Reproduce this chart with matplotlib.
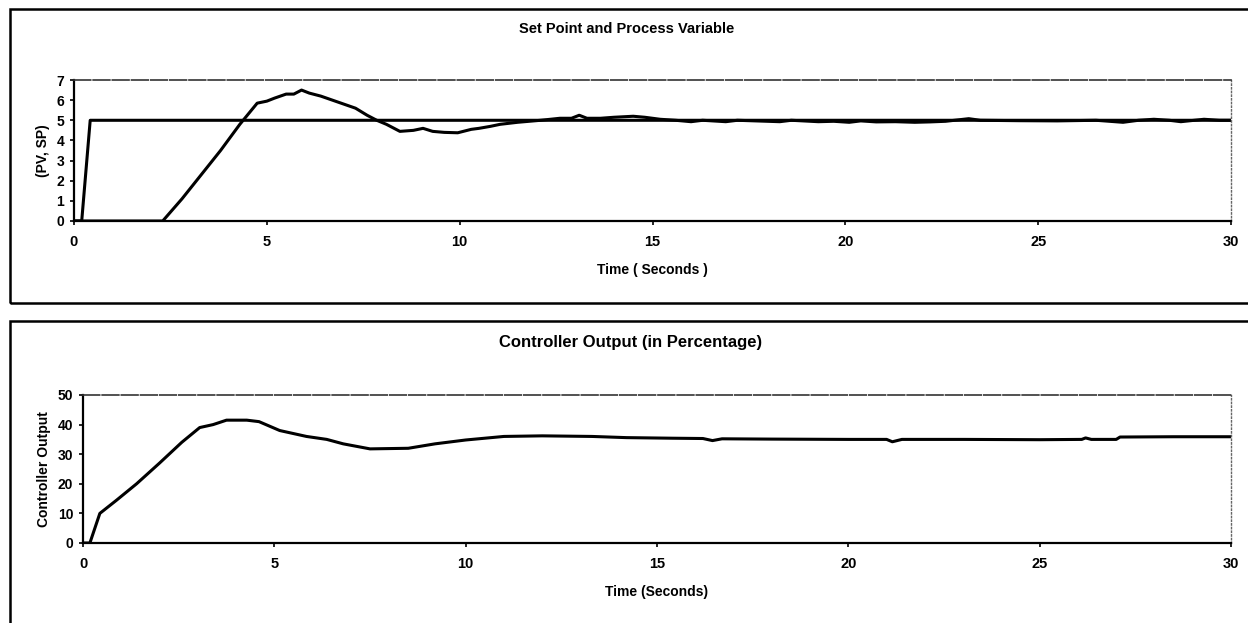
import matplotlib.pyplot as plt
from matplotlib.patches import Rectangle

# set point (step at t ~ 0.2 s)
sp_time = [0, 0.2, 0.42, 30]
sp_value = [0, 0, 5, 5]

# process variable
pv_time = [0, 2.3, 2.8, 3.3, 3.8, 4.3, 4.75, 5.0, 5.2, 5.5, 5.7, 5.9, 6.1, 6.4, 6.7,
           7.0, 7.3, 7.6, 7.85, 8.1, 8.45, 8.8, 9.05, 9.3, 9.6, 9.95, 10.3, 10.5, 10.8,
           11.05, 11.5, 12.1, 12.6, 12.9, 13.1, 13.3, 13.65, 14.0, 14.5, 14.8, 15.2,
           15.6, 16.0, 16.3, 16.9, 17.2, 18.3, 18.6, 19.3, 19.7, 20.1, 20.4, 20.8, 21.3,
           21.8, 22.2, 22.6, 23.2, 23.5, 24.5, 25.5, 26.5, 27.2, 27.6, 28.0, 28.4, 28.7,
           29.3, 29.7, 30]
pv_value = [0, 0, 1.1, 2.3, 3.5, 4.8, 5.85, 5.95, 6.1, 6.3, 6.3, 6.5, 6.35, 6.2, 6.0,
            5.8, 5.6, 5.25, 5.0, 4.8, 4.45, 4.5, 4.6, 4.45, 4.4, 4.38, 4.55, 4.6, 4.7,
            4.8, 4.9, 5.0, 5.1, 5.1, 5.25, 5.1, 5.1, 5.15, 5.2, 5.15, 5.05,
            5.0, 4.93, 5.0, 4.93, 5.0, 4.93, 5.0, 4.93, 4.95, 4.9, 4.97, 4.92, 4.93,
            4.9, 4.92, 4.95, 5.08, 5.0, 4.98, 4.97, 5.0, 4.9, 5.0, 5.05, 5.0, 4.93,
            5.05, 5.0, 5.0]

# controller output (%)
co_time = [0, 0.18, 0.44, 0.88, 1.4, 2.0, 2.58, 3.05, 3.4, 3.75, 4.28, 4.6, 5.14, 5.84,
           6.37, 6.8, 7.5, 8.5, 9.2, 10.0, 11.0, 12.0, 13.3, 14.2, 15.4, 16.2, 16.45,
           16.7, 18.0, 20.0, 21.0, 21.15, 21.4, 23.0, 25.0, 26.1, 26.2, 26.35, 27.0,
           27.1, 28.5, 30]
co_value = [0, 0, 10, 14.5, 20, 27, 34, 39, 40, 41.5, 41.5, 41, 38, 36, 35, 33.5, 31.8,
            32, 33.5, 34.8, 36, 36.2, 36, 35.6, 35.4, 35.3, 34.6, 35.2, 35.1, 35.0, 35.0,
            34.2, 35.0, 35.0, 34.9, 35.0, 35.5, 35.0, 35.0, 35.8, 35.9, 35.9]

plt.rcParams['font.family'] = ['Liberation Sans', 'DejaVu Sans']
plt.rcParams['font.weight'] = 'bold'
plt.rcParams['axes.labelweight'] = 'bold'

W, H = 1248, 623
fig = plt.figure(figsize=(W / 100, H / 100), dpi=100)

# panel frames (run past the right edge / bottom like the scan)
fig.patches.append(Rectangle((10 / W, 1 - 303 / H), 1.0, (303 - 9) / H,
                             transform=fig.transFigure, fill=False, lw=1.8, ec='black'))
fig.patches.append(Rectangle((10 / W, -0.1), 1.0, 0.1 + (623 - 321) / H,
                             transform=fig.transFigure, fill=False, lw=1.8, ec='black'))


def style(ax):
    ax.spines['left'].set_linewidth(1.6)
    ax.spines['bottom'].set_linewidth(1.6)
    ax.spines['top'].set_linewidth(1.2)
    ax.spines['top'].set_color('0.2')
    ax.spines['top'].set_linestyle((0, (10, 1.5)))
    ax.spines['right'].set_linewidth(1.0)
    ax.spines['right'].set_color('0.4')
    ax.spines['right'].set_linestyle(':')
    ax.tick_params(direction='out', length=3, width=1.2, labelsize=10.5, pad=7)
    ax.set_xlim(0, 30)
    ax.set_xticks(range(0, 31, 5))


ax1 = fig.add_axes([74 / W, 1 - 221 / H, (1231 - 74) / W, 141 / H])
ax1.plot(sp_time, sp_value, color='black', lw=2.2)
ax1.plot(pv_time, pv_value, color='black', lw=2.2)
style(ax1)
ax1.set_ylim(0, 7)
ax1.set_yticks(range(0, 8))
ax1.tick_params(axis='y', labelsize=10, pad=4)
ax1.set_ylabel('(PV, SP)', fontsize=10, labelpad=5)
ax1.set_xlabel('Time ( Seconds )', fontsize=10, labelpad=10)
fig.text(0.502, 1 - 29 / H, 'Set Point and Process Variable', ha='center', va='center',
         fontsize=10.5, fontweight='bold')

ax2 = fig.add_axes([83 / W, 1 - 543 / H, (1231 - 83) / W, 148 / H])
ax2.plot(co_time, co_value, color='black', lw=2.2)
style(ax2)
ax2.set_ylim(0, 50)
ax2.set_yticks(range(0, 51, 10))
ax2.tick_params(axis='y', labelsize=10, pad=4)
ax2.set_ylabel('Controller Output', fontsize=10, labelpad=5)
ax2.set_xlabel('Time (Seconds)', fontsize=10, labelpad=10)
fig.text(0.505, 1 - 342 / H, 'Controller Output (in Percentage)', ha='center', va='center',
         fontsize=12, fontweight='bold')

fig.savefig('out.png', dpi=100)
